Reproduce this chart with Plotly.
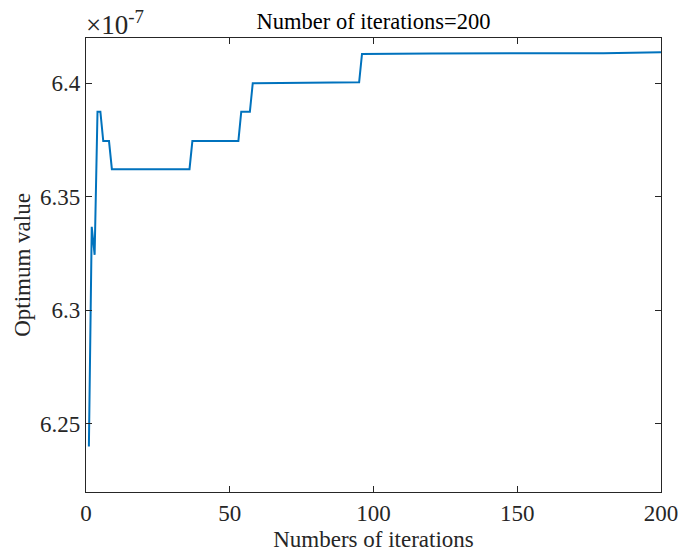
import plotly.graph_objects as go

# Breakpoints of the step-like convergence curve (values in units of 1e-7)
iterations = [1, 2, 3, 4, 5, 6, 8, 9, 36, 37, 53, 54, 57, 58, 95, 96, 120, 180, 200]
optimum = [6.2400, 6.3368, 6.3245, 6.3875, 6.3875, 6.3746, 6.3746, 6.3622, 6.3622,
           6.3746, 6.3746, 6.3875, 6.3875, 6.4001, 6.4005, 6.4130, 6.4132, 6.4133, 6.4137]

x_ticks = [0, 50, 100, 150, 200]
y_ticks = [6.25, 6.3, 6.35, 6.4]
y_tick_labels = ["6.25", "6.3", "6.35", "6.4"]

FONT = "Liberation Serif"
AX = "#262626"
FS = 23

fig = go.Figure()
fig.add_trace(go.Scatter(x=iterations, y=optimum, mode="lines",
                         line=dict(color="#0072BD", width=2), showlegend=False))

fig.update_layout(
    width=679, height=554,
    margin=dict(l=86, r=18, t=38, b=62, autoexpand=False),
    plot_bgcolor="white", paper_bgcolor="white",
    font=dict(family=FONT, size=FS, color=AX),
    title=dict(text="Number of iterations=200", x=0.5, xanchor="center",
               xref="paper", y=0.962, yanchor="middle",
               font=dict(family=FONT, size=22.5, color="#000000")),
)
fig.update_xaxes(range=[0, 200], tickvals=x_ticks, ticks="inside", ticklen=6,
                 tickcolor=AX, showline=True, linecolor=AX, linewidth=1.2,
                 mirror="ticks", showgrid=False, zeroline=False, automargin=False,
                 title=dict(text="Numbers of iterations", standoff=6,
                            font=dict(family=FONT, size=FS, color=AX)),
                 tickfont=dict(family=FONT, size=FS, color=AX))
fig.update_yaxes(range=[6.22, 6.42], tickvals=y_ticks, ticktext=y_tick_labels,
                 ticks="inside", ticklen=6, tickcolor=AX, showline=True,
                 linecolor=AX, linewidth=1.2, mirror="ticks", showgrid=False,
                 zeroline=False, automargin=False,
                 title=dict(text="Optimum value", standoff=2,
                            font=dict(family=FONT, size=FS, color=AX)),
                 tickfont=dict(family=FONT, size=FS, color=AX))

fig.add_annotation(text="×10<sup>-7</sup>", xref="paper", yref="paper",
                   x=0, y=1, xanchor="left", yanchor="bottom", showarrow=False,
                   font=dict(family=FONT, size=27, color=AX), xshift=-2, yshift=-4)

fig.write_html("out.html", config={"displayModeBar": False},
               post_script="document.body.style.margin='0';document.body.style.overflow='hidden';")
